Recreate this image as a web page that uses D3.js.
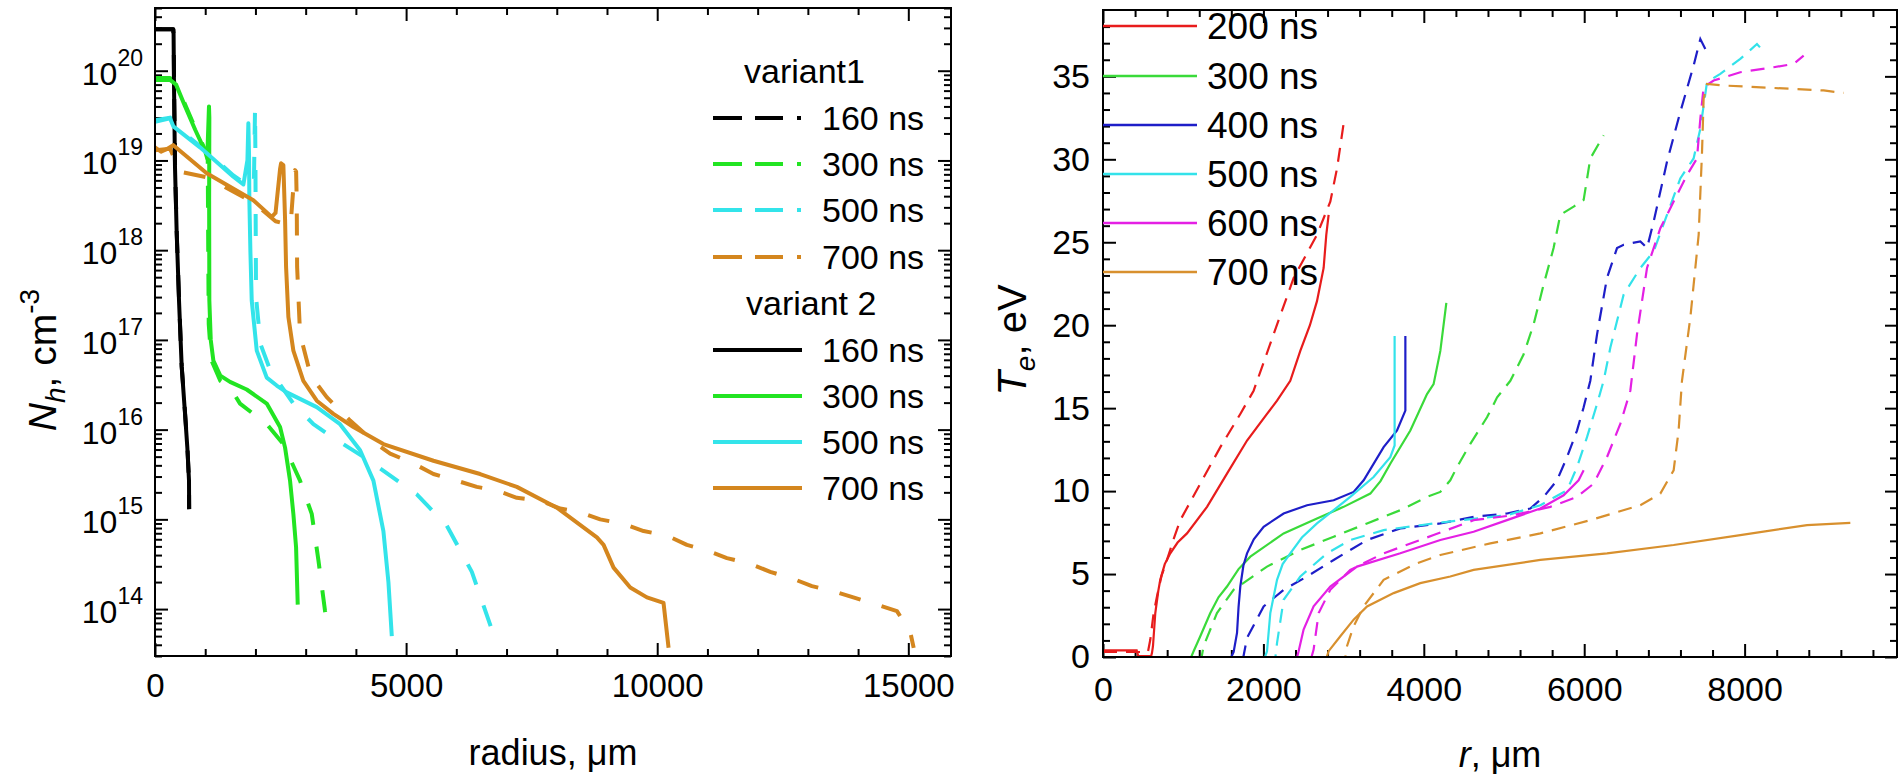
<!DOCTYPE html>
<html><head><meta charset="utf-8">
<script src="https://cdn.jsdelivr.net/npm/d3@7"></script>
<style>
body{margin:0;background:#fff}
svg{display:block}
text{font-family:Arial,"Liberation Sans",sans-serif;fill:#000}
</style>
</head><body>
<svg id="c" width="1903" height="776"></svg>
<script>
// ---------------- LEFT PANEL DATA: [radius (um), N_h (cm^-3)] ----------------
const leftTimeLabels = ["160 ns", "300 ns", "500 ns", "700 ns"];
const leftXTicks = [0, 5000, 10000, 15000];
const leftYTicks = [1e14, 1e15, 1e16, 1e17, 1e18, 1e19, 1e20];
const leftYTickExp = ["14", "15", "16", "17", "18", "19", "20"];

// variant1 (dashed)
const v1_160 = [[0,2.9e20],[362,2.9e20],[372,2.4e20],[380,6.8e19],[400,8.0e18],[434,1.5e18],[480,2.7e17],[532,5.0e16],[553,3.5e16],[600,1.5e16],[646,6.2e15],[677,2.7e15],[680,1.3e15]];
const v1_300 = [[0,8.3e19],[300,8.3e19],[420,7.2e19],[600,4.2e19],[800,2.3e19],[1000,1.3e19],[1050,1.1e19],[1060,1.0e18],[1070,1.5e17],[1120,6.0e16],[1300,3.5e16],[1494,2.95e16],[1693,1.95e16],[2225,1.15e16],[2556,6.9e15],[2888,2.7e15],[3121,1.15e15],[3254,3.5e14],[3386,9.5e13],[3453,5.6e13]];
const v1_500 = [[0,2.8e19],[300,3.0e19],[365,2.5e19],[896,1.45e19],[1560,6.8e18],[1900,5.0e18],[1970,6.0e18],[1992,3.8e19],[2000,1.0e19],[2005,2.0e18],[2012,3.0e17],[2100,9.0e16],[2300,4.5e16],[2490,3.2e16],[2755,1.95e16],[3154,1.15e16],[3552,8.1e15],[4217,4.7e15],[5213,1.9e15],[5811,8.5e14],[6309,2.6e14],[6707,5.9e13]];
const v1_700 = [[0,1.3e19],[300,1.35e19],[500,7.5e18],[1030,6.5e18],[1958,3.4e18],[2400,2.1e18],[2700,1.9e18],[2770,6.5e18],[2789,7.8e18],[2810,7.5e18],[2822,3.6e18],[2830,6.5e17],[2888,1.17e17],[3100,4.0e16],[3420,2.3e16],[3885,1.26e16],[4416,6.9e15],[4682,5.4e15],[5147,4.2e15],[5544,3.2e15],[6010,2.7e15],[6408,2.3e15],[6806,2.1e15],[7205,1.74e15],[7670,1.62e15],[8068,1.32e15],[8466,1.2e15],[8865,1.0e15],[9330,8.9e14],[9729,7.4e14],[10193,6.6e14],[10591,5.2e14],[10990,4.5e14],[11388,3.7e14],[11853,3.2e14],[12251,2.6e14],[12683,2.2e14],[13081,1.8e14],[13507,1.58e14],[13905,1.35e14],[14375,1.12e14],[14774,9.5e13],[15040,5.5e13],[15107,3.7e13]];

// variant 2 (solid)
const v2_160 = [[0,2.9e20],[365,2.9e20],[370,2.6e20],[378,7.2e19],[398,8.5e18],[432,1.55e18],[478,2.75e17],[532,5.0e16],[551,3.55e16],[598,1.5e16],[644,6.3e15],[677,2.7e15],[680,1.3e15]];
const v2_300 = [[0,7.9e19],[300,7.9e19],[420,7.0e19],[600,4.0e19],[800,2.2e19],[1000,1.26e19],[1040,1.05e19],[1075,4.0e19],[1082,3.0e19],[1078,3.6e18],[1082,2.75e17],[1110,1.0e17],[1162,5.9e16],[1300,4.0e16],[1494,3.4e16],[1826,2.8e16],[2225,1.95e16],[2490,1.07e16],[2590,6.3e15],[2689,2.7e15],[2755,1.15e15],[2809,4.9e14],[2842,1.12e14]];
const v2_500 = [[0,2.7e19],[299,2.95e19],[365,2.4e19],[896,1.4e19],[1560,6.6e18],[1760,5.4e18],[1840,1.0e19],[1859,2.6e19],[1872,1.2e19],[1879,3.6e18],[1900,9.5e17],[1926,2.75e17],[2026,7.6e16],[2225,3.8e16],[2424,3.1e16],[2623,2.6e16],[3221,1.78e16],[3685,1.15e16],[4084,5.9e15],[4349,2.7e15],[4548,7.4e14],[4648,2.0e14],[4715,5.0e13]];
const v2_700 = [[0,1.4e19],[120,1.25e19],[250,1.35e19],[365,1.48e19],[1030,7.2e18],[1958,3.6e18],[2324,2.35e18],[2400,2.6e18],[2490,8.0e18],[2510,9.3e18],[2556,8.9e18],[2590,2.2e18],[2610,6.5e17],[2656,1.8e17],[2755,7.6e16],[2954,3.5e16],[3221,2.1e16],[3552,1.5e16],[3951,1.07e16],[4548,6.9e15],[5544,4.5e15],[6474,3.2e15],[7205,2.3e15],[8002,1.35e15],[8799,6.3e14],[8932,5.2e14],[9131,2.9e14],[9463,1.74e14],[9795,1.35e14],[10126,1.17e14],[10226,3.7e13]];

// ---------------- RIGHT PANEL DATA: [r (um), Te (eV)] ----------------
const rightTimeLabels = ["200 ns", "300 ns", "400 ns", "500 ns", "600 ns", "700 ns"];
const rightXTicks = [0, 2000, 4000, 6000, 8000];
const rightYTicks = [0, 5, 10, 15, 20, 25, 30, 35];

const s200 = [[0,0.4],[420,0.4],[440,0.05],[600,0.05],[611,0.25],[623,0.65],[652,2.65],[690,4.0],[714,4.65],[770,5.6],[839,6.25],[930,6.9],[1047,7.45],[1297,9.05],[1546,11.05],[1796,13.05],[2045,14.65],[2170,15.45],[2335,16.65],[2460,18.45],[2580,20.0],[2668,21.45],[2751,23.45],[2784,25.45],[2813,26.65]];
const d200 = [[0,0.3],[560,0.3],[590,1.05],[630,2.6],[673,3.65],[730,4.9],[798,5.85],[880,7.1],[964,8.25],[1213,10.45],[1463,12.65],[1712,14.65],[1878,16.05],[2127,19.45],[2377,22.85],[2668,25.45],[2834,27.45],[2918,29.45],[3000,32.15]];
const s300 = [[0,0],[1100,0],[1130,0.35],[1213,1.25],[1338,2.65],[1440,3.6],[1546,4.25],[1690,5.3],[1837,6.05],[2252,7.45],[2668,8.35],[3000,9.05],[3333,9.85],[3460,10.6],[3582,11.65],[3832,13.65],[4040,15.85],[4122,16.45],[4206,18.45],[4281,21.35]];
const d300 = [[0,0],[1230,0],[1254,0.65],[1421,2.65],[1628,4.05],[2045,5.45],[2460,6.45],[2876,7.25],[3292,8.05],[3707,8.85],[4040,9.65],[4206,9.95],[4330,10.65],[4414,11.45],[4580,12.85],[4788,14.45],[4914,15.65],[5079,16.65],[5245,18.25],[5369,20.05],[5494,22.45],[5618,24.65],[5702,26.65],[5868,27.15],[5993,27.55],[6076,30.05],[6242,31.45]];
const s400 = [[0,0],[1600,0],[1629,0.3],[1671,1.45],[1690,3.0],[1712,4.25],[1750,5.5],[1796,6.25],[1880,7.1],[2003,7.85],[2252,8.65],[2544,9.15],[2876,9.45],[3125,9.95],[3250,10.65],[3499,12.65],[3666,13.65],[3770,14.85],[3770,19.35]];
const d400 = [[0,0],[1750,0],[1796,1.15],[2003,3.05],[2252,4.05],[2544,4.85],[2876,5.85],[3292,7.05],[3707,7.75],[4206,8.05],[4621,8.45],[5037,8.65],[5328,8.95],[5494,9.65],[5661,10.65],[5786,12.05],[5910,13.65],[5993,15.05],[6076,16.65],[6160,19.45],[6284,22.85],[6409,24.65],[6492,24.85],[6700,25.05],[6783,24.65],[6866,26.25],[7032,29.85],[7198,32.85],[7364,35.65],[7448,37.25],[7531,36.45]];
const s500 = [[0,0],[2020,0],[2045,0.35],[2086,2.65],[2170,4.65],[2240,5.6],[2335,6.25],[2480,7.2],[2668,8.05],[3083,9.65],[3374,10.85],[3582,12.05],[3636,12.75],[3636,19.35]];
const d500 = [[0,0],[2150,0],[2170,0.85],[2252,3.45],[2460,4.85],[2793,6.25],[3083,7.05],[3499,7.65],[4206,8.1],[5037,8.55],[5453,9.15],[5786,10.05],[5910,11.45],[6035,13.25],[6160,15.25],[6242,16.65],[6326,18.65],[6492,21.85],[6700,23.45],[6866,24.45],[7032,26.65],[7198,28.85],[7364,30.05],[7448,31.85],[7531,34.65],[7697,35.15],[7946,36.05],[8154,36.95],[8200,36.7]];
const s600 = [[0,0],[2420,0],[2439,0.35],[2501,1.65],[2626,3.05],[2834,4.25],[3167,5.45],[3707,6.25],[4206,7.05],[4621,7.55],[5037,8.25],[5453,8.95],[5743,9.75],[5930,10.65],[5993,11.25]];
const d600 = [[0,0],[2600,0],[2626,0.45],[2689,2.65],[2834,4.05],[3083,5.25],[3499,6.25],[4122,7.35],[4621,8.25],[5120,8.55],[5578,9.05],[5910,9.65],[6118,10.45],[6284,12.05],[6450,14.05],[6575,16.05],[6658,19.45],[6783,23.45],[6949,25.85],[7115,27.45],[7282,29.05],[7406,30.05],[7448,32.45],[7489,34.35],[7614,34.75],[7946,35.25],[8362,35.55],[8611,35.75],[8736,36.25]];
const s700 = [[0,0],[2790,0],[2813,0.35],[2959,1.25],[3125,2.25],[3292,3.05],[3624,3.85],[3956,4.45],[4330,4.85],[4621,5.25],[5453,5.85],[6284,6.25],[7115,6.75],[7946,7.35],[8778,7.95],[9318,8.09]];
const d700 = [[0,0],[3022,0],[3042,0.65],[3125,1.85],[3250,3.05],[3499,4.65],[3915,5.65],[4206,6.15],[4829,6.85],[5453,7.45],[6076,8.25],[6700,9.15],[6949,9.85],[7115,11.25],[7177,13.65],[7219,16.65],[7323,20.45],[7427,25.45],[7469,30.45],[7489,33.65],[7531,34.55],[7739,34.45],[8362,34.3],[8985,34.15],[9235,34.0]];

// ---------------- styles ----------------
const leftColors = ["#000000", "#22e422", "#33e4ea", "#d4861e"];
const rightColors = ["#e81c1c", "#3ada3a", "#1e1ec8", "#33e2ea", "#e420e4", "#d8902e"];

const svg = d3.select("#c");
const defs = svg.append("defs");

function frame(g, x0, x1, y0, y1) {
  g.append("rect").attr("x", x0).attr("y", y0).attr("width", x1 - x0).attr("height", y1 - y0)
    .attr("fill", "none").attr("stroke", "#000").attr("stroke-width", 2);
}
function styleAxis(sel) {
  sel.select(".domain").remove();
  sel.selectAll(".tick line").attr("stroke", "#000").attr("stroke-width", 2);
}

// ================= LEFT PANEL =================
const L = {x0: 155, x1: 951, y0: 8, y1: 656};
const xL = d3.scaleLinear([0, 15850], [L.x0, L.x1]);
const yL = d3.scaleLog([3e13, 5e20], [L.y1, L.y0]);
const gL = svg.append("g");
defs.append("clipPath").attr("id", "clipL").append("rect")
  .attr("x", L.x0).attr("y", L.y0).attr("width", L.x1 - L.x0).attr("height", L.y1 - L.y0);

const xMinorL = d3.range(1000, 15850, 1000).filter(v => v % 5000 !== 0);
const yMinorL = yL.ticks().filter(v => !leftYTicks.includes(v) && Math.abs(Math.log10(v) - Math.round(Math.log10(v))) > 1e-6);

gL.append("g").attr("transform", `translate(0,${L.y1})`)
  .call(d3.axisBottom(xL).tickValues(leftXTicks).tickSize(-13).tickPadding(18).tickFormat(d3.format("d")))
  .call(styleAxis).call(s => s.selectAll("text").attr("font-size", 33).attr("font-family", "Arial, Liberation Sans"));
gL.append("g").attr("transform", `translate(0,${L.y1})`)
  .call(d3.axisBottom(xL).tickValues(xMinorL).tickSize(-7).tickFormat("")).call(styleAxis);
gL.append("g").attr("transform", `translate(0,${L.y0})`)
  .call(d3.axisTop(xL).tickValues(leftXTicks).tickSize(-13).tickFormat("")).call(styleAxis);
gL.append("g").attr("transform", `translate(0,${L.y0})`)
  .call(d3.axisTop(xL).tickValues(xMinorL).tickSize(-7).tickFormat("")).call(styleAxis);
gL.append("g").attr("transform", `translate(${L.x0},0)`)
  .call(d3.axisLeft(yL).tickValues(leftYTicks).tickSize(-13).tickFormat("")).call(styleAxis);
gL.append("g").attr("transform", `translate(${L.x0},0)`)
  .call(d3.axisLeft(yL).tickValues(yMinorL).tickSize(-7).tickFormat("")).call(styleAxis);
gL.append("g").attr("transform", `translate(${L.x1},0)`)
  .call(d3.axisRight(yL).tickValues(leftYTicks).tickSize(-13).tickFormat("")).call(styleAxis);
gL.append("g").attr("transform", `translate(${L.x1},0)`)
  .call(d3.axisRight(yL).tickValues(yMinorL).tickSize(-7).tickFormat("")).call(styleAxis);

leftYTicks.forEach((v, i) => {
  const t = gL.append("text").attr("x", 143).attr("y", yL(v) + 14)
    .attr("text-anchor", "end").attr("font-size", 32);
  t.append("tspan").text("10");
  t.append("tspan").attr("dy", -19).attr("font-size", 23).text(leftYTickExp[i]);
});

const lineL = d3.line().x(d => xL(d[0])).y(d => yL(d[1]));
const plotL = gL.append("g").attr("clip-path", "url(#clipL)");
const v1 = [v1_160, v1_300, v1_500, v1_700];
const v2 = [v2_160, v2_300, v2_500, v2_700];
v1.forEach((s, i) => plotL.append("path").datum(s).attr("d", lineL).attr("fill", "none")
  .attr("stroke", leftColors[i]).attr("stroke-width", 4).attr("stroke-dasharray", "22,22")
  .attr("stroke-linejoin", "round"));
v2.forEach((s, i) => plotL.append("path").datum(s).attr("d", lineL).attr("fill", "none")
  .attr("stroke", leftColors[i]).attr("stroke-width", 4).attr("stroke-linejoin", "round"));
frame(gL, L.x0, L.x1, L.y0, L.y1);

const legL = gL.append("g");
legL.append("text").attr("x", 744).attr("y", 83).attr("font-size", 34).text("variant1");
legL.append("text").attr("x", 746).attr("y", 315).attr("font-size", 34).text("variant 2");
const rowsDash = [118, 164, 210, 257];
const rowsSolid = [350, 396, 442, 488];
leftTimeLabels.forEach((lab, i) => {
  legL.append("line").attr("x1", 713).attr("x2", 802).attr("y1", rowsDash[i]).attr("y2", rowsDash[i])
    .attr("stroke", leftColors[i]).attr("stroke-width", 4).attr("stroke-dasharray", "29,13,28,14,4,20");
  legL.append("text").attr("x", 822).attr("y", rowsDash[i]).attr("dy", "0.36em").attr("font-size", 34).text(lab);
  legL.append("line").attr("x1", 713).attr("x2", 802).attr("y1", rowsSolid[i]).attr("y2", rowsSolid[i])
    .attr("stroke", leftColors[i]).attr("stroke-width", 4);
  legL.append("text").attr("x", 822).attr("y", rowsSolid[i]).attr("dy", "0.36em").attr("font-size", 34).text(lab);
});

gL.append("text").attr("x", 553).attr("y", 765).attr("text-anchor", "middle").attr("font-size", 36)
  .text("radius, \u03bcm");
const tyl = gL.append("text").attr("transform", "translate(56,360) rotate(-90)")
  .attr("text-anchor", "middle").attr("font-size", 39);
tyl.append("tspan").attr("font-style", "italic").text("N");
tyl.append("tspan").attr("font-style", "italic").attr("font-size", 28).attr("dy", 9).text("h");
tyl.append("tspan").attr("dy", -9).text(", cm");
tyl.append("tspan").attr("font-size", 28).attr("dy", -17).text("-3");

// ================= RIGHT PANEL =================
const R = {x0: 1103, x1: 1897, y0: 10, y1: 657};
const xR = d3.scaleLinear([0, 9900], [R.x0, R.x1]);
const yR = d3.scaleLinear([0, 39], [R.y1, R.y0]);
const gR = svg.append("g");
defs.append("clipPath").attr("id", "clipR").append("rect")
  .attr("x", R.x0).attr("y", R.y0).attr("width", R.x1 - R.x0).attr("height", R.y1 - R.y0);

const xMinorR = d3.range(400, 9900, 400).filter(v => v % 2000 !== 0);
const yMinorR = d3.range(1, 39, 1).filter(v => v % 5 !== 0);

gR.append("g").attr("transform", `translate(0,${R.y1})`)
  .call(d3.axisBottom(xR).tickValues(rightXTicks).tickSize(-13).tickPadding(20).tickFormat(d3.format("d")))
  .call(styleAxis).call(s => s.selectAll("text").attr("font-size", 34).attr("font-family", "Arial, Liberation Sans"));
gR.append("g").attr("transform", `translate(0,${R.y1})`)
  .call(d3.axisBottom(xR).tickValues(xMinorR).tickSize(-7).tickFormat("")).call(styleAxis);
gR.append("g").attr("transform", `translate(0,${R.y0})`)
  .call(d3.axisTop(xR).tickValues(rightXTicks).tickSize(-13).tickFormat("")).call(styleAxis);
gR.append("g").attr("transform", `translate(0,${R.y0})`)
  .call(d3.axisTop(xR).tickValues(xMinorR).tickSize(-7).tickFormat("")).call(styleAxis);
gR.append("g").attr("transform", `translate(${R.x0},0)`)
  .call(d3.axisLeft(yR).tickValues(rightYTicks).tickSize(-13).tickPadding(13).tickFormat(d3.format("d")))
  .call(styleAxis).call(s => s.selectAll("text").attr("font-size", 34).attr("font-family", "Arial, Liberation Sans"));
gR.append("g").attr("transform", `translate(${R.x0},0)`)
  .call(d3.axisLeft(yR).tickValues(yMinorR).tickSize(-7).tickFormat("")).call(styleAxis);
gR.append("g").attr("transform", `translate(${R.x1},0)`)
  .call(d3.axisRight(yR).tickValues(rightYTicks).tickSize(-12).tickFormat("")).call(styleAxis);
gR.append("g").attr("transform", `translate(${R.x1},0)`)
  .call(d3.axisRight(yR).tickValues(yMinorR).tickSize(-7).tickFormat("")).call(styleAxis);

const lineR = d3.line().x(d => xR(d[0])).y(d => yR(d[1]));
const plotR = gR.append("g").attr("clip-path", "url(#clipR)");
const rs = [s200, s300, s400, s500, s600, s700];
const rd = [d200, d300, d400, d500, d600, d700];
rd.forEach((s, i) => plotR.append("path").datum(s).attr("d", lineR).attr("fill", "none")
  .attr("stroke", rightColors[i]).attr("stroke-width", 2.2).attr("stroke-dasharray", "14,9"));
rs.forEach((s, i) => plotR.append("path").datum(s).attr("d", lineR).attr("fill", "none")
  .attr("stroke", rightColors[i]).attr("stroke-width", 2.2));
frame(gR, R.x0, R.x1, R.y0, R.y1);

const rowsR = [26, 76, 125, 174, 223, 272];
rightTimeLabels.forEach((lab, i) => {
  gR.append("line").attr("x1", R.x0).attr("x2", 1197).attr("y1", rowsR[i]).attr("y2", rowsR[i])
    .attr("stroke", rightColors[i]).attr("stroke-width", 2.6);
  gR.append("text").attr("x", 1207).attr("y", rowsR[i]).attr("dy", "0.36em").attr("font-size", 37).text(lab);
});

const txr = gR.append("text").attr("x", 1500).attr("y", 767).attr("text-anchor", "middle").attr("font-size", 36);
txr.append("tspan").attr("font-style", "italic").text("r");
txr.append("tspan").text(", \u03bcm");
const tyr = gR.append("text").attr("transform", "translate(1026,340) rotate(-90)")
  .attr("text-anchor", "middle").attr("font-size", 40);
tyr.append("tspan").attr("font-style", "italic").text("T");
tyr.append("tspan").attr("font-style", "italic").attr("font-size", 28).attr("dy", 9).text("e");
tyr.append("tspan").attr("dy", -9).text(", eV");
</script>
</body></html>
